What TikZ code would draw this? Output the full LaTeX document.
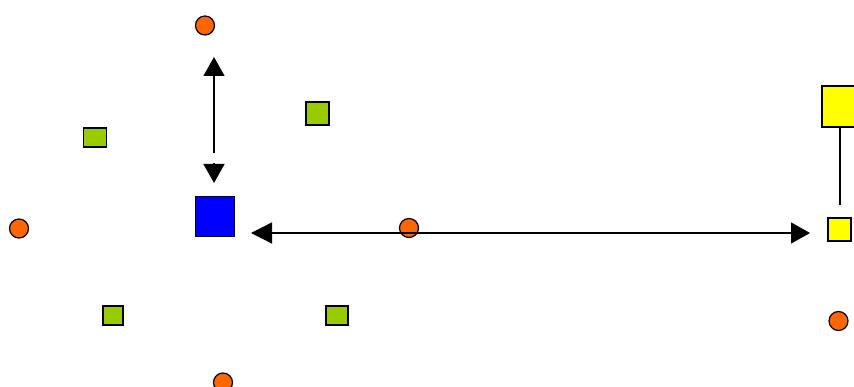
\documentclass[tikz,border=0pt]{standalone}
\usetikzlibrary{arrows.meta,shapes.geometric}
\definecolor{dotorange}{HTML}{FF6600}
\definecolor{boxgreen}{HTML}{99CC00}
\definecolor{boxyellow}{HTML}{FFFF00}
\definecolor{boxblue}{HTML}{0000FF}
\tikzset{
  dot/.style={ellipse, draw=black, line width=1.2pt, fill=dotorange, minimum width=19pt, minimum height=19pt, inner sep=0pt},
  gbox/.style={rectangle, draw=black, line width=1.2pt, fill=boxgreen, inner sep=0pt},
  ybox/.style={rectangle, draw=black, line width=1.2pt, fill=boxyellow, inner sep=0pt},
  bbox/.style={rectangle, draw=black, line width=1.2pt, fill=boxblue, inner sep=0pt},
  conn/.style={draw=black, line width=1.3pt},
  tip/.style={-{Triangle[length=19pt,width=21pt]}},
}
\begin{document}
\begin{tikzpicture}[x=1pt,y=-1pt]
\useasboundingbox (0,0) rectangle (854,387);
% orange dots
\node[dot] (o1) at (205,25.5) {};
\node[dot] (o2) at (19,228.5) {};
\node[dot] (o3) at (409,228) {};
\node[dot] (o4) at (838.5,321) {};
\node[dot] (o5) at (223,382.5) {};
% green boxes
\node[gbox, minimum width=23pt, minimum height=19pt] (g1) at (95,137.5) {};
\node[gbox, minimum width=23pt, minimum height=23pt] (g2) at (317.5,113.5) {};
\node[gbox, minimum width=20pt, minimum height=19pt] (g3) at (113,315.5) {};
\node[gbox, minimum width=22pt, minimum height=19pt] (g4) at (337,315.5) {};
% blue box
\node[bbox, minimum width=39pt, minimum height=40pt] (b) at (215,216.5) {};
% yellow boxes
\node[ybox, minimum width=41pt, minimum height=41pt] (y1) at (842.5,106.5) {};
\node[ybox, minimum width=23pt, minimum height=23pt] (y2) at (839.5,229.5) {};
% connectors
\coordinate (vtop) at (214,57);
\coordinate (vlow) at (214,153);
\coordinate (vhb) at (214,163);
\coordinate (vbot) at (214,183);
\draw[conn, tip] (vlow) -- (vtop);
\draw[conn, tip] (vhb) -- (vbot);
\coordinate (hl) at (251,233);
\coordinate (hr) at (810,233);
\draw[conn, {Triangle[length=21pt,width=21pt]}-{Triangle[length=19pt,width=21pt]}] (hl) -- (hr);
\draw[black, line width=2pt] (274,233) -- (327,233);
\coordinate (ylow) at (840,205);
\draw[conn] (y1.south -| ylow) -- (ylow);
\end{tikzpicture}
\end{document}
